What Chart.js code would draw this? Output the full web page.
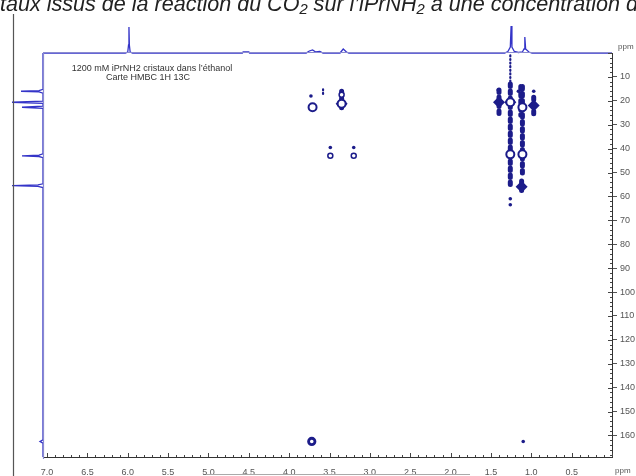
<!DOCTYPE html>
<html>
<head>
<meta charset="utf-8">
<script src="https://cdn.jsdelivr.net/npm/chart.js@4.4.1/dist/chart.umd.min.js"></script>
<style>
  html, body { margin: 0; padding: 0; background: #fff; }
  canvas { display: block; }
</style>
</head>
<body>
<canvas id="myChart" width="636" height="476"></canvas>
<script>
const xTicks = [7.0, 6.5, 6.0, 5.5, 5.0, 4.5, 4.0, 3.5, 3.0, 2.5, 2.0, 1.5, 1.0, 0.5];
const yTicks = [10, 20, 30, 40, 50, 60, 70, 80, 90, 100, 110, 120, 130, 140, 150, 160];

// 1H projection on top (ppm, height above baseline)
const protonShift = [7.05, 6.03, 6.0, 5.99, 5.985, 5.98, 5.97, 5.94,
    4.58, 4.57, 4.50, 4.49,
    3.79, 3.75, 3.71, 3.67, 3.62, 3.58,
    3.37, 3.33, 3.29, 3.26,
    1.33, 1.29, 1.26, 1.25, 1.24, 1.21, 1.16, 1.11, 1.09, 1.08, 1.07, 1.03, 0.99, 0];
const protonHeight = [0, 0, 1, 8, 26, 8, 1, 0,
    0, 1, 1, 0,
    0, 2, 3, 1, 1.5, 0,
    0, 4, 1, 0,
    0, 1.5, 6, 27, 6, 1.5, 0.5, 1, 4, 16, 4, 1, 0, 0];

// 13C projection on the left (ppm, length to the left)
const carbonShift = [0, 15.2, 15.7, 16, 16.3, 16.8, 20.1, 20.6, 21.1, 22.2, 22.7, 23.2,
    42.2, 42.7, 43, 43.3, 43.8, 54.7, 55.2, 55.5, 55.8, 56.3, 161.8, 162.5, 163.2, 169];
const carbonHeight = [0, 0, 4, 22, 4, 0, 0, 31, 0, 0, 21, 0,
    0, 4, 21, 4, 0, 0, 5, 31, 5, 0, 0, 3, 0, 0];

// HMBC cross peaks: 1H shift (ppm) / 13C shift (ppm)
const ringH = [3.71, 3.35, 1.26, 1.11, 1.26, 1.11];
const ringC = [22.7, 21.2, 20.6, 22.7, 42.4, 42.4];
const darkRingH = [3.72];
const darkRingC = [162.5];
const smallRingH = [3.35, 3.49, 3.20];
const smallRingC = [17.5, 43.0, 43.0];
const dotH = [3.73, 3.49, 3.20, 1.26, 1.26, 1.10, 0.97, 1.41, 1.16];
const dotC = [18.0, 39.5, 39.5, 61.0, 63.5, 162.5, 16.0, 15.5, 16.0];
const blobH = [1.40, 1.26, 0.97, 1.12, 3.35];
const blobC = [20.6, 20.6, 22.0, 56.0, 21.2];
const streakH = [3.35, 1.40, 1.26, 1.11, 1.13, 0.97, 1.12];
const streakFrom = [16.0, 15.5, 13.0, 14.0, 14.0, 18.5, 53.5];
const streakTo = [24.5, 26.0, 56.0, 52.0, 26.0, 26.0, 58.0];
const thinStreakH = [1.26, 3.58];
const thinStreakFrom = [1.0, 15.2];
const thinStreakTo = [13.0, 17.5];

const navy = '#1c1c8a';
const specBlue = '#3434c8';

function pts(xs, ys) {
    return xs.map((v, i) => ({ x: v, y: ys[i] }));
}
function segs(xs, from, to) {
    const out = [];
    xs.forEach((v, i) => {
        out.push({ x: v, y: from[i] }, { x: v, y: to[i] }, { x: v, y: null });
    });
    return out;
}

const decor = {
    id: 'decor',
    beforeDraw(chart) {
        const ctx = chart.ctx;
        ctx.save();
        ctx.fillStyle = '#fff';
        ctx.fillRect(0, 0, chart.width, chart.height);
        ctx.restore();
    },
    afterDraw(chart) {
        const ctx = chart.ctx;
        const xs = chart.scales.x;
        const ys = chart.scales.y;
        const a = chart.chartArea;
        ctx.save();

        // clipped caption from the document
        const shown = 'taux issus de la réaction du CO\u2082 sur l\u2019iPrNH\u2082 à une concentration ';
        ctx.font = 'italic 20px "Liberation Sans"';
        const size = 20 * 626 / ctx.measureText(shown).width;
        ctx.font = 'italic ' + size.toFixed(2) + 'px "Liberation Sans"';
        ctx.fillStyle = '#222';
        ctx.textBaseline = 'alphabetic';
        ctx.textAlign = 'left';
        ctx.fillText('Cristaux issus de la réaction du CO\u2082 sur l\u2019iPrNH\u2082 à une concentration de 1200 mM',
            0 - ctx.measureText('Cris').width, 11);

        // page margin line
        ctx.strokeStyle = '#555';
        ctx.lineWidth = 1.2;
        ctx.beginPath();
        ctx.moveTo(13.5, 14);
        ctx.lineTo(13.5, 476);
        ctx.stroke();

        // baselines of the projections
        ctx.strokeStyle = '#8a8ad0';
        ctx.lineWidth = 1.2;
        ctx.beginPath();
        ctx.moveTo(a.left, a.top - 0.5);
        ctx.lineTo(a.right, a.top - 0.5);
        ctx.moveTo(a.left + 0.5, a.top);
        ctx.lineTo(a.left + 0.5, a.bottom + 2);
        ctx.stroke();

        // minor ticks
        ctx.strokeStyle = '#444';
        ctx.lineWidth = 1;
        ctx.beginPath();
        for (let i = 0; i <= 70; i++) {
            const px = Math.round(xs.getPixelForValue(i / 10)) + 0.5;
            const len = i % 5 === 0 ? 4 : 2;
            ctx.moveTo(px, a.bottom);
            ctx.lineTo(px, a.bottom - len);
        }
        for (let v = 0; v <= 168; v += 2) {
            const py = Math.round(ys.getPixelForValue(v)) + 0.5;
            const len = v % 10 === 0 ? 4 : 2;
            ctx.moveTo(a.right, py);
            ctx.lineTo(a.right - len, py);
        }
        ctx.stroke();

        // ppm units
        ctx.font = '8px "Liberation Sans"';
        ctx.fillStyle = '#555';
        ctx.textBaseline = 'middle';
        ctx.fillText('ppm', a.right + 6, a.top - 6);
        ctx.fillText('ppm', a.right + 3, 471);

        // stray frame line under the labels
        ctx.strokeStyle = '#aaa';
        ctx.beginPath();
        ctx.moveTo(206, 474.5);
        ctx.lineTo(470, 474.5);
        ctx.stroke();

        // annotation
        ctx.font = '9px "Liberation Sans"';
        ctx.fillStyle = '#333';
        ctx.textAlign = 'center';
        ctx.fillText('1200 mM iPrNH2 cristaux dans l\u2019éthanol', 152, 69);
        ctx.fillText('Carte HMBC 1H 13C', 148, 78);
        ctx.restore();
    }
};

const config = {
    type: 'scatter',
    data: {
        datasets: [
            {
                data: pts(ringH, ringC),
                pointStyle: 'circle', pointRadius: 4, borderWidth: 2,
                borderColor: navy, backgroundColor: '#fff'
            },
            {
                data: pts(darkRingH, darkRingC),
                pointStyle: 'circle', pointRadius: 3.2, borderWidth: 2.8,
                borderColor: navy, backgroundColor: '#fff'
            },
            {
                data: pts(smallRingH, smallRingC),
                pointStyle: 'circle', pointRadius: 2.5, borderWidth: 1.5,
                borderColor: navy, backgroundColor: '#fff'
            },
            {
                data: pts(dotH, dotC),
                pointRadius: 1.8, borderWidth: 0, backgroundColor: navy
            },
            {
                data: pts(blobH, blobC),
                pointStyle: 'rectRot', pointRadius: 6, borderWidth: 0, backgroundColor: navy
            },
            {
                data: segs(streakH, streakFrom, streakTo),
                showLine: true, pointRadius: 0, borderWidth: 5,
                borderColor: navy, borderCapStyle: 'round', borderDash: [2.5, 4.5]
            },
            {
                data: segs(thinStreakH, thinStreakFrom, thinStreakTo),
                showLine: true, pointRadius: 0, borderWidth: 2.2,
                borderColor: navy, borderCapStyle: 'round', borderDash: [1, 2.6]
            },
            {
                data: pts(protonShift, protonHeight),
                yAxisID: 'yH', showLine: true, pointRadius: 0,
                borderWidth: 1.3, borderColor: specBlue, clip: false
            },
            {
                data: pts(carbonHeight, carbonShift),
                xAxisID: 'xC', showLine: true, pointRadius: 0,
                borderWidth: 1.3, borderColor: specBlue, clip: false
            }
        ]
    },
    options: {
        responsive: false,
        animation: false,
        events: [],
        layout: { padding: { left: 43, top: 53, right: 0, bottom: 0 } },
        plugins: {
            legend: { display: false },
            tooltip: { enabled: false }
        },
        scales: {
            x: {
                type: 'linear', position: 'bottom', reverse: true,
                min: 0, max: 7.05,
                afterBuildTicks: (s) => { s.ticks = xTicks.map(v => ({ value: v })); },
                afterFit: (s) => { s.height = 19; },
                grid: { display: true, drawOnChartArea: false, drawTicks: false },
                border: { display: true, color: '#333', width: 1 },
                ticks: {
                    padding: 10, maxRotation: 0, autoSkip: false,
                    color: '#555', font: { family: 'Liberation Sans', size: 9 },
                    callback: (v) => Number(v).toFixed(1)
                }
            },
            y: {
                type: 'linear', position: 'right', reverse: true,
                min: 0, max: 169,
                afterBuildTicks: (s) => { s.ticks = yTicks.map(v => ({ value: v })); },
                afterFit: (s) => { s.width = 24; },
                grid: { display: true, drawOnChartArea: false, drawTicks: true, tickLength: 5, color: '#555' },
                border: { display: true, color: '#333', width: 1 },
                ticks: {
                    padding: 3, autoSkip: false,
                    color: '#555', font: { family: 'Liberation Sans', size: 9 }
                }
            },
            yH: { type: 'linear', display: false, min: -404, max: 0 },
            xC: { type: 'linear', display: false, min: -569, max: 0, reverse: true }
        }
    },
    plugins: [decor]
};

const myChart = new Chart(document.getElementById('myChart'), config);
</script>
</body>
</html>
